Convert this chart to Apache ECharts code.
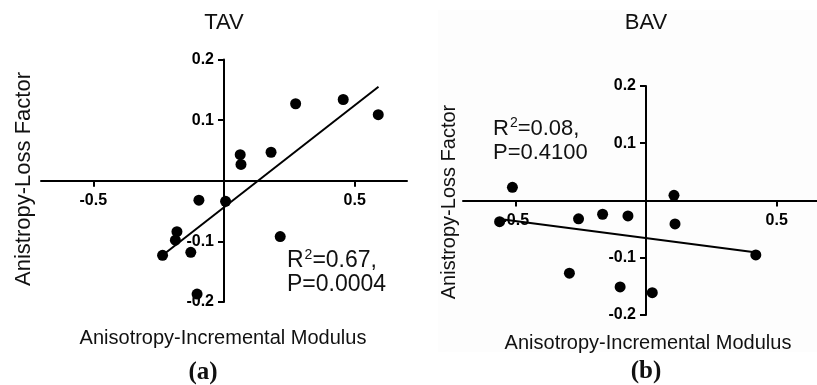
<!DOCTYPE html>
<html>
<head>
<meta charset="utf-8">
<script src="https://cdn.jsdelivr.net/npm/echarts@6/dist/echarts.min.js"></script>
<style>
  html, body { margin: 0; padding: 0; background: #fff; }
  #chart { width: 817px; height: 385px; }
</style>
</head>
<body>
<div id="chart"></div>
<script>
// TAV group: anisotropy of incremental modulus vs anisotropy of loss factor
const tavX = [0.456, 0.590, 0.274, 0.180, 0.062, 0.065, -0.096, 0.006, -0.180, -0.186, -0.235, -0.127, 0.215, -0.103];
const tavY = [0.134, 0.109, 0.127, 0.047, 0.043, 0.027, -0.032, -0.034, -0.084, -0.098, -0.123, -0.118, -0.092, -0.187];
const tavFitX = [-0.235, 0.591];
const tavFitY = [-0.123, 0.155];

// BAV group
const bavX = [-0.511, 0.107, -0.560, -0.258, -0.166, -0.069, 0.111, 0.420, -0.293, -0.099, 0.024];
const bavY = [0.023, 0.009, -0.037, -0.032, -0.024, -0.027, -0.041, -0.095, -0.127, -0.151, -0.161];
const bavFitX = [-0.560, 0.423];
const bavFitY = [-0.0325, -0.0907];

// Axis ticks / labels
const xTickValues = [-0.5, 0.5];
const yTickValues = [-0.2, -0.1, 0.1, 0.2];
const X_MIN = -0.7, X_MAX = 0.7, Y_MIN = -0.2, Y_MAX = 0.2;

const panelTitles = ['TAV', 'BAV'];
const xAxisTitle = 'Anisotropy-Incremental Modulus';
const yAxisTitle = 'Anistropy-Loss Factor';
const statsR2 = ['0.67', '0.08'];
const statsP = ['0.0004', '0.4100'];
const panelTags = ['(a)', '(b)'];

const SANS = '"Liberation Sans", Arial, sans-serif';
const SERIF = '"Liberation Serif", "Times New Roman", serif';

// Plot boxes of the two panels (pixels)
const boxes = [
  { left: 41, top: 59.5, width: 366, height: 242.5 },
  { left: 463, top: 86, width: 366, height: 229 }
];

const pair = (xs, ys) => xs.map((x, i) => [x, ys[i]]);

// The axes cross at the origin: shift each axis inward from the box edge to zero.
function zeroOffsetX(b) { return -b.width * (0 - X_MIN) / (X_MAX - X_MIN); }
function zeroOffsetY(b) { return -b.height * (0 - Y_MIN) / (Y_MAX - Y_MIN); }

function xAxisCfg(gi) {
  return {
    gridIndex: gi, type: 'value', min: X_MIN, max: X_MAX, position: 'bottom',
    offset: zeroOffsetY(boxes[gi]),
    axisLine: { onZero: false, lineStyle: { color: '#000', width: 2 } },
    axisTick: { customValues: xTickValues, length: 6, lineStyle: { color: '#000', width: 2 } },
    axisLabel: { customValues: xTickValues, color: '#000', fontWeight: 'bold', fontSize: 16, fontFamily: SANS, margin: 12 },
    splitLine: { show: false }
  };
}
function yAxisCfg(gi) {
  return {
    gridIndex: gi, type: 'value', min: Y_MIN, max: Y_MAX, interval: 0.1, position: 'left',
    offset: zeroOffsetX(boxes[gi]),
    axisLine: { onZero: false, lineStyle: { color: '#000', width: 2 } },
    axisTick: { customValues: yTickValues, length: 6, lineStyle: { color: '#000', width: 2 } },
    axisLabel: { customValues: yTickValues, color: '#000', fontWeight: 'bold', fontSize: 16, fontFamily: SANS, margin: 10 },
    splitLine: { show: false }
  };
}

function txt(x, y, text, size, opts) {
  return Object.assign({
    type: 'text', x: x, y: y, z: 10,
    style: Object.assign({ text: text, fontSize: size, fontFamily: SANS, fill: '#111', align: 'center', verticalAlign: 'middle' }, opts && opts.style)
  }, opts && opts.el);
}

// "R² = …, P = …" block with a raised 2
function stats(x, y, i, size) {
  return {
    type: 'text', x: x, y: y, z: 10,
    style: {
      text: '{m|R}{s|2}{m|=' + statsR2[i] + ',}\n{m|P=' + statsP[i] + '}',
      align: 'left', verticalAlign: 'top', fill: '#111', fontFamily: SANS,
      rich: {
        m: { fontSize: size, lineHeight: 24, fontFamily: SANS, fill: '#111', verticalAlign: 'bottom' },
        s: { fontSize: Math.round(size * 0.62), lineHeight: 24, fontFamily: SANS, fill: '#111', verticalAlign: 'top', padding: [0, 0, 0, 1] }
      }
    }
  };
}

const chart = echarts.init(document.getElementById('chart'), null, { renderer: 'canvas' });
chart.setOption({
  backgroundColor: '#fff',
  animation: false,
  grid: boxes.map(b => Object.assign({ containLabel: false, outerBoundsMode: 'none' }, b)),
  xAxis: [xAxisCfg(0), xAxisCfg(1)],
  yAxis: [yAxisCfg(0), yAxisCfg(1)],
  series: [
    { type: 'scatter', xAxisIndex: 0, yAxisIndex: 0, data: pair(tavX, tavY), symbolSize: 11, itemStyle: { color: '#000', opacity: 1 }, z: 5 },
    { type: 'line', xAxisIndex: 0, yAxisIndex: 0, data: pair(tavFitX, tavFitY), symbol: 'none', lineStyle: { color: '#000', width: 2 }, z: 4 },
    { type: 'scatter', xAxisIndex: 1, yAxisIndex: 1, data: pair(bavX, bavY), symbolSize: 11, itemStyle: { color: '#000', opacity: 1 }, z: 5 },
    { type: 'line', xAxisIndex: 1, yAxisIndex: 1, data: pair(bavFitX, bavFitY), symbol: 'none', lineStyle: { color: '#000', width: 2 }, z: 4 }
  ],
  graphic: [
    { type: 'rect', z: -10, shape: { x: 438, y: 10, width: 379, height: 342 }, style: { fill: '#fdfdfd' } },
    txt(224, 22.5, panelTitles[0], 22),
    txt(646, 23, panelTitles[1], 22),
    txt(24, 179, yAxisTitle, 22, { el: { rotation: Math.PI / 2 } }),
    txt(449, 202, yAxisTitle, 20, { el: { rotation: Math.PI / 2 } }),
    txt(223, 338, xAxisTitle, 20),
    txt(648, 343, xAxisTitle, 20),
    stats(287, 248, 0, 23),
    stats(493, 116, 1, 22),
    txt(203, 373, panelTags[0], 25, { style: { fontFamily: SERIF, fontWeight: 'bold' } }),
    txt(646, 372, panelTags[1], 25, { style: { fontFamily: SERIF, fontWeight: 'bold' } })
  ]
});
</script>
</body>
</html>
